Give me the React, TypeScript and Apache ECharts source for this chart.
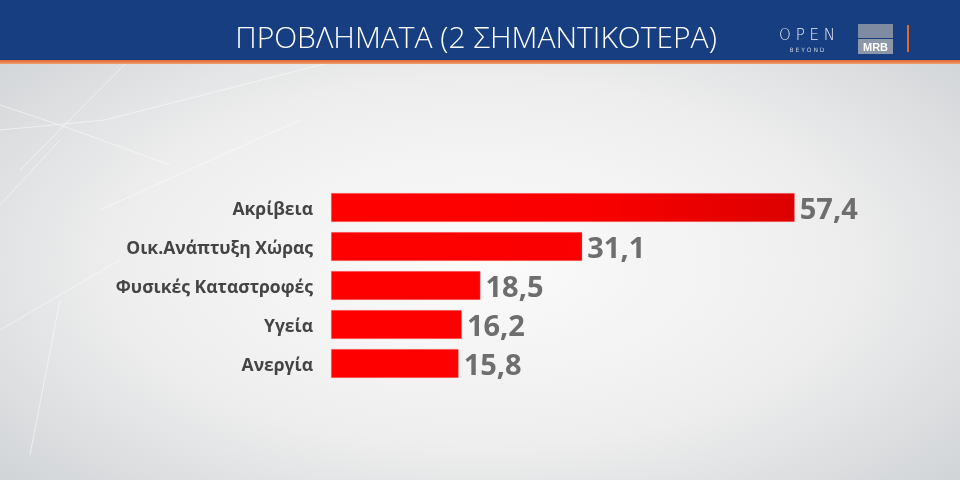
import React, { useEffect, useRef } from "react";
import * as echarts from "echarts";

const categories = ["Ακρίβεια", "Οικ.Ανάπτυξη Χώρας", "Φυσικές Καταστροφές", "Υγεία", "Ανεργία"];
const values = [57.4, 31.1, 18.5, 16.2, 15.8];
const title = "ΠΡΟΒΛΗΜΑΤΑ (2 ΣΗΜΑΝΤΙΚΟΤΕΡΑ)";

export default function App() {
  const ref = useRef<HTMLDivElement>(null);
  useEffect(() => {
    if (!ref.current) return;
    const chart = echarts.init(ref.current, null, { renderer: "svg" });
    const faint = { stroke: "rgba(255,255,255,0.5)", lineWidth: 1 };
    chart.setOption({
      animation: false,
      backgroundColor: {
        type: "radial",
        x: 0.5,
        y: 0.55,
        r: 0.75,
        colorStops: [
          { offset: 0, color: "#fbfbfb" },
          { offset: 0.5, color: "#eeeeee" },
          { offset: 1, color: "#c9cdd1" },
        ],
      },
      graphic: [
        { type: "line", shape: { x1: 0, y1: 130, x2: 105, y2: 120 }, style: faint, z: 0 },
        { type: "line", shape: { x1: 105, y1: 120, x2: 340, y2: 60 }, style: faint, z: 0 },
        { type: "line", shape: { x1: 20, y1: 170, x2: 125, y2: 64 }, style: faint, z: 0 },
        { type: "line", shape: { x1: 0, y1: 205, x2: 60, y2: 140 }, style: faint, z: 0 },
        { type: "line", shape: { x1: 0, y1: 105, x2: 60, y2: 125 }, style: faint, z: 0 },
        { type: "line", shape: { x1: 60, y1: 125, x2: 170, y2: 165 }, style: faint, z: 0 },
        { type: "line", shape: { x1: 100, y1: 210, x2: 300, y2: 120 }, style: faint, z: 0 },
        { type: "line", shape: { x1: 0, y1: 330, x2: 120, y2: 260 }, style: faint, z: 0 },
        { type: "line", shape: { x1: 30, y1: 455, x2: 60, y2: 300 }, style: faint, z: 0 },
        // header
        { type: "rect", shape: { x: 0, y: 0, width: 960, height: 60 }, style: { fill: "#173e80" }, z: 1 },
        {
          type: "rect",
          shape: { x: 0, y: 60, width: 960, height: 4 },
          style: {
            fill: { type: "linear", x: 0, y: 0, x2: 0, y2: 1, colorStops: [
              { offset: 0, color: "#e2652e" }, { offset: 1, color: "#f0a070" }] },
          },
          z: 1,
        },
        {
          type: "text",
          x: 476,
          y: 36,
          style: {
            text: title,
            fill: "#ffffff",
            font: "300 30px 'Open Sans', sans-serif",
            align: "center",
            verticalAlign: "middle",
          },
          z: 2,
        },
        {
          type: "text",
          x: 807,
          y: 35,
          style: {
            text: "O P E N",
            fill: "#e8edf5",
            font: "300 15px 'DejaVu Sans', sans-serif",
            align: "center",
            verticalAlign: "middle",
          },
          z: 2,
        },
        {
          type: "text",
          x: 807,
          y: 49,
          style: {
            text: "B E Y O N D",
            fill: "#c8d0dd",
            font: "6px 'DejaVu Sans', sans-serif",
            align: "center",
            verticalAlign: "middle",
          },
          z: 2,
        },
        { type: "rect", shape: { x: 858, y: 24, width: 35, height: 14 }, style: { fill: "#7f8ba0" }, z: 2 },
        { type: "rect", shape: { x: 858, y: 39, width: 35, height: 15 }, style: { fill: "#8c97a8" }, z: 2 },
        {
          type: "text",
          x: 875.5,
          y: 46.5,
          style: {
            text: "MRB",
            fill: "#ffffff",
            font: "bold 11px 'Liberation Sans', sans-serif",
            align: "center",
            verticalAlign: "middle",
          },
          z: 3,
        },
        { type: "rect", shape: { x: 907, y: 25, width: 2, height: 27 }, style: { fill: "#e06a2c" }, z: 2 },
      ],
      grid: { left: 331, top: 188, width: 565.6, height: 195, containLabel: false },
      xAxis: { type: "value", min: 0, max: 70, show: false },
      yAxis: {
        type: "category",
        data: categories,
        inverse: true,
        axisLine: { show: false },
        axisTick: { show: false },
        splitLine: { show: false },
        axisLabel: {
          margin: 18,
          color: "#444444",
          fontSize: 17.5,
          fontWeight: "bold",
          fontFamily: "'Open Sans', sans-serif",
        },
      },
      series: [
        {
          type: "bar",
          data: values,
          barWidth: 29,
          itemStyle: {
            color: {
              type: "linear", x: 331, y: 0, x2: 800, y2: 0, global: true,
              colorStops: [
                { offset: 0, color: "#ff0000" },
                { offset: 0.55, color: "#fa0000" },
                { offset: 1, color: "#dc0000" },
              ],
            },
            borderColor: "rgba(255,170,170,0.6)",
            borderWidth: 0.5,
          },
          label: {
            show: true,
            position: "right",
            distance: 5,
            color: "#6e6e6e",
            fontSize: 29,
            fontWeight: "bold",
            fontFamily: "'Open Sans', sans-serif",
            formatter: (p: any) => String(p.value).replace(".", ","),
          },
        },
      ],
    });
    return () => chart.dispose();
  }, []);
  return <div ref={ref} style={{ position: "fixed", left: 0, top: 0, width: 960, height: 480 }} />;
}
